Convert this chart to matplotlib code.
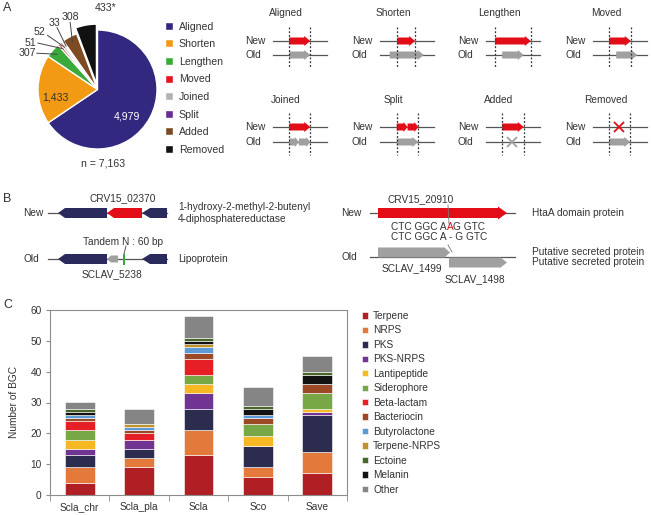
import matplotlib
matplotlib.use('Agg')
import matplotlib.pyplot as plt
import matplotlib.patches as mpatches
import numpy as np

plt.rcParams['font.family'] = ['Liberation Sans', 'DejaVu Sans']
plt.rcParams['font.size'] = 7.3
plt.rcParams['text.color'] = '#333333'
TXT = '#333333'
LINE = '#555555'

# ---- panel A : gene model changes
pie_labels = ['Aligned', 'Shorten', 'Lengthen', 'Moved', 'Joined', 'Split', 'Added', 'Removed']
pie_values = [4979, 1433, 307, 51, 52, 33, 308, 433]
pie_texts = ['4,979', '1,433', '307', '51', '52', '33', '308', '433*']
pie_colors = ['#32287f', '#f39a14', '#3aaa3a', '#e3141f', '#b3b3b3', '#6a2c8e', '#7d4a22', '#111111']
n_total = '7,163'

# schematic of each class, positions relative to a 0..1 line
case_bounds = [(0.30, 0.69), (0.32, 0.65), (0.17, 0.83), (0.30, 0.70),
               (0.30, 0.69), (0.31, 0.71), (0.30, 0.70), (0.30, 0.69)]
case_new = [[(0.30, 0.69)], [(0.32, 0.65)], [(0.17, 0.83)], [(0.30, 0.70)],
            [(0.30, 0.69)], [(0.31, 0.51), (0.51, 0.71)], [(0.30, 0.70)], []]
case_old = [[(0.30, 0.69)], [(0.18, 0.81)], [(0.30, 0.70)], [(0.43, 0.82)],
            [(0.30, 0.48), (0.48, 0.69)], [(0.31, 0.71)], [], [(0.30, 0.69)]]
case_cross = [None, None, None, None, None, None, ('old', 0.49), ('new', 0.49)]

# ---- panel C : BGC counts
strains = ['Scla_chr', 'Scla_pla', 'Scla', 'Sco', 'Save']
terpene = [4, 9, 13, 6, 7]
nrps = [5, 3, 8, 3, 7]
pks = [4, 3, 7, 7, 12]
pks_nrps = [2, 3, 5, 0, 1]
lantipeptide = [3, 0, 3, 3, 1]
siderophore = [3, 0, 3, 4, 5]
beta_lactam = [3, 2, 5, 0, 0]
bacteriocin = [1, 1, 2, 2, 3]
butyrolactone = [1, 1, 2, 1, 0]
terpene_nrps = [0, 1, 1, 0, 0]
ectoine = [1, 0, 1, 1, 1]
melanin = [1, 0, 1, 2, 3]
other = [2, 5, 7, 6, 5]

bgc = {'Terpene': terpene, 'NRPS': nrps, 'PKS': pks, 'PKS-NRPS': pks_nrps,
       'Lantipeptide': lantipeptide, 'Siderophore': siderophore,
       'Beta-lactam': beta_lactam, 'Bacteriocin': bacteriocin,
       'Butyrolactone': butyrolactone, 'Terpene-NRPS': terpene_nrps,
       'Ectoine': ectoine, 'Melanin': melanin, 'Other': other}
bgc_colors = {'Terpene': '#b01f24', 'NRPS': '#e3793a', 'PKS': '#2c2c4f',
              'PKS-NRPS': '#703592', 'Lantipeptide': '#f6b823',
              'Siderophore': '#77a845', 'Beta-lactam': '#e61e25',
              'Bacteriocin': '#9b4a25', 'Butyrolactone': '#5d9ad6',
              'Terpene-NRPS': '#c0922a', 'Ectoine': '#48652a',
              'Melanin': '#121212', 'Other': '#858585'}
legend_order = list(bgc.keys())
stack_order = ['Terpene', 'NRPS', 'PKS', 'PKS-NRPS', 'Lantipeptide', 'Siderophore',
               'Beta-lactam', 'Bacteriocin', 'Butyrolactone', 'Terpene-NRPS',
               'Melanin', 'Ectoine', 'Other']


def gene(ax, x0, x1, y, color, body=7, head=10, head_len=6, left=False):
    """block arrow in pixel coords (y down)"""
    if not left:
        hb = x1 - head_len
        pts = [(x0, y - body / 2), (hb, y - body / 2), (hb, y - head / 2), (x1, y),
               (hb, y + head / 2), (hb, y + body / 2), (x0, y + body / 2)]
    else:
        hb = x0 + head_len
        pts = [(x1, y - body / 2), (hb, y - body / 2), (hb, y - head / 2), (x0, y),
               (hb, y + head / 2), (hb, y + body / 2), (x1, y + body / 2)]
    ax.add_patch(mpatches.Polygon(pts, closed=True, facecolor=color,
                                  edgecolor='none', zorder=3))


fig = plt.figure(figsize=(6.51, 5.15), dpi=100)

# overlay in pixel units for schematics and panel letters
ov = fig.add_axes([0, 0, 1, 1])
ov.set_xlim(0, 651)
ov.set_ylim(515, 0)
ov.axis('off')

for lab, (px, py) in zip('ABC', [(3, 8), (3, 199), (3, 305)]):
    ov.text(px, py, lab, fontsize=9, va='center', ha='left', color=TXT)

# ---- panel A schematics
col_x = [273, 380, 486, 593]
rows_y = [(13, 41, 55), (100, 127, 142)]
L = 54
for i, name in enumerate(pie_labels):
    r, c = divmod(i, 4)
    x0 = col_x[c]
    ty, ny, oy = rows_y[r]
    ov.text((x0 - 28 + x0 + L) / 2, ty, name, ha='center', va='center', color=TXT)
    ov.text(x0 - 28, ny, 'New', ha='left', va='center', color=TXT)
    ov.text(x0 - 28, oy, 'Old', ha='left', va='center', color=TXT)
    ov.plot([x0, x0 + L], [ny, ny], color=LINE, lw=0.9, zorder=2)
    ov.plot([x0, x0 + L], [oy, oy], color=LINE, lw=0.9, zorder=2)
    for b in case_bounds[i]:
        ov.plot([x0 + b * L] * 2, [ny - 14, oy + 13], color='#333333', lw=0.9,
                ls=(0, (1.5, 1.5)), zorder=4)
    for s, e in case_new[i]:
        gene(ov, x0 + s * L, x0 + e * L, ny, '#e30d18',
             head_len=6 if e - s > 0.3 else 4)
    for s, e in case_old[i]:
        gene(ov, x0 + s * L, x0 + e * L, oy, '#a0a0a0',
             head_len=6 if e - s > 0.3 else 4)
    if case_cross[i] is not None:
        where, pos = case_cross[i]
        yy = ny if where == 'new' else oy
        col = '#e30d18' if where == 'new' else '#a0a0a0'
        ov.plot([x0 + pos * L], [yy], marker='x', ms=7, mew=1.3, color=col, zorder=5)

# ---- panel B left
NAVY = '#2b2a5c'
ov.text(23, 213, 'New', ha='left', va='center', color=TXT)
ov.plot([48, 167], [213, 213], color=LINE, lw=0.9, zorder=2)
gene(ov, 58, 107, 213, NAVY, body=10, head=10, head_len=7, left=True)
gene(ov, 107, 142, 213, '#e30d18', body=10, head=10, head_len=7, left=True)
gene(ov, 142, 167, 213, NAVY, body=10, head=10, head_len=8, left=True)
ov.text(123, 198, 'CRV15_02370', ha='center', va='center', color=TXT)
ov.text(178, 207, '1-hydroxy-2-methyl-2-butenyl', ha='left', va='center', color=TXT)
ov.text(178, 219, '4-diphosphatereductase', ha='left', va='center', color=TXT)

ov.text(23, 259, 'Old', ha='left', va='center', color=TXT)
ov.plot([48, 167], [259, 259], color=LINE, lw=0.9, zorder=2)
gene(ov, 58, 107, 259, NAVY, body=10, head=10, head_len=7, left=True)
gene(ov, 107, 118, 259, '#a0a0a0', body=7, head=7, head_len=4, left=True)
ov.add_patch(mpatches.Rectangle((122.5, 253.5), 2.5, 11, facecolor='#3aaa3a',
                                edgecolor='none', zorder=3))
gene(ov, 142, 167, 259, NAVY, body=10, head=10, head_len=8, left=True)
ov.text(83, 242, 'Tandem N : 60 bp', ha='left', va='center', color=TXT)
ov.plot([126, 124], [246, 254], color=LINE, lw=0.7)
ov.text(112, 274, 'SCLAV_5238', ha='center', va='center', color=TXT)
ov.text(178, 259, 'Lipoprotein', ha='left', va='center', color=TXT)

# ---- panel B right
ov.text(341, 213, 'New', ha='left', va='center', color=TXT)
ov.plot([370, 515], [213, 213], color=LINE, lw=0.9, zorder=2)
gene(ov, 378, 507, 213, '#e30d18', body=10, head=13, head_len=9)
ov.text(387, 199, 'CRV15_20910', ha='left', va='center', color=TXT)
ov.plot([448, 449], [205, 224], color='#777777', lw=0.6, zorder=4)
t1 = ov.text(391, 227, 'CTC GGC A', ha='left', va='center', color=TXT)
t2 = ov.annotate('A', xy=(1, 0), xycoords=t1, ha='left', va='bottom', color='#e30d18')
ov.annotate('G GTC', xy=(1, 0), xycoords=t2, ha='left', va='bottom', color=TXT)
ov.text(391, 237, 'CTC GGC A - G GTC', ha='left', va='center', color=TXT)
ov.plot([448, 452], [245, 252], color='#777777', lw=0.6, zorder=4)
ov.text(341, 257, 'Old', ha='left', va='center', color=TXT)
ov.plot([370, 515], [257, 257], color=LINE, lw=0.9, zorder=2)
gene(ov, 378, 450, 252.5, '#a0a0a0', body=10, head=11, head_len=6)
gene(ov, 449, 507, 262.5, '#a0a0a0', body=10, head=11, head_len=7)
ov.text(382, 268, 'SCLAV_1499', ha='left', va='center', color=TXT)
ov.text(445, 279, 'SCLAV_1498', ha='left', va='center', color=TXT)
ov.text(532, 213, 'HtaA domain protein', ha='left', va='center', color=TXT)
ov.text(532, 252, 'Putative secreted protein', ha='left', va='center', color=TXT)
ov.text(532, 262, 'Putative secreted protein', ha='left', va='center', color=TXT)

# ---- panel A pie
cx, cy, R, half = 97.5, 89.5, 59.5, 1.55
s = half * R
axp = fig.add_axes([(cx - s) / 651, 1 - (cy + s) / 515, 2 * s / 651, 2 * s / 515])
explode = [0.0] * (len(pie_values) - 1) + [0.1]
wedges, _ = axp.pie(pie_values, colors=pie_colors, startangle=90, counterclock=False,
                    explode=explode, radius=1,
                    wedgeprops=dict(edgecolor='white', linewidth=1))
axp.set_xlim(-half, half)
axp.set_ylim(-half, half)
axp.set_aspect('equal')
axp.axis('off')

text_pos = [(0.50, -0.46), (-0.70, -0.14), (-1.18, 0.61), (-1.13, 0.78),
            (-0.97, 0.97), (-0.73, 1.12), (-0.46, 1.22), (0.14, 1.37)]
lead_start = [None, None, (-1.02, 0.61), (-1.0, 0.78), (-0.84, 0.91),
              (-0.68, 1.04), (-0.46, 1.13), None]
for w, txt, pos, st in zip(wedges, pie_texts, text_pos, lead_start):
    col = 'white' if txt == '4,979' else TXT
    axp.text(pos[0], pos[1], txt, ha='center', va='center', color=col, fontsize=7.6)
    if st is not None:
        mid = np.deg2rad((w.theta1 + w.theta2) / 2)
        axp.plot([st[0], 0.9 * np.cos(mid)], [st[1], 0.9 * np.sin(mid)],
                 color='#444444', lw=0.7, clip_on=False)
axp.text(0.09, -1.24, 'n = ' + n_total, ha='center', va='center', color=TXT, fontsize=7.6)

fig.legend(wedges, pie_labels, loc='upper left', bbox_to_anchor=(165 / 651, 1 - 21.5 / 515),
           frameon=False, handlelength=0.8, handleheight=0.8, handletextpad=0.5,
           labelspacing=0.72, borderaxespad=0, borderpad=0, fontsize=7.6)

# ---- panel C stacked bars
axb = fig.add_axes([50 / 651, 1 - 495 / 515, 297 / 651, 185 / 515])
x = np.arange(len(strains))
bottom = np.zeros(len(strains))
bars = {}
for name in stack_order:
    vals = np.array(bgc[name], dtype=float)
    bars[name] = axb.bar(x, vals, 0.5, bottom=bottom, color=bgc_colors[name],
                         edgecolor='white', linewidth=0.4)
    bottom += vals
axb.set_xlim(-0.5, len(strains) - 0.5)
axb.set_ylim(0, 60)
axb.set_yticks(range(0, 61, 10))
axb.set_xticks(x)
axb.set_xticklabels(strains)
axb.set_xticks(np.arange(-0.5, len(strains)), minor=True)
axb.tick_params(axis='x', which='major', length=0, pad=5, labelsize=7.3, labelcolor=TXT)
axb.tick_params(axis='x', which='minor', length=4, direction='out', color='#8c8c8c')
axb.tick_params(axis='y', length=3, direction='out', color='#8c8c8c', pad=3,
                labelsize=7.3, labelcolor=TXT)
for sp in axb.spines.values():
    sp.set_color('#8c8c8c')
    sp.set_linewidth(0.8)
axb.set_ylabel('Number of BGC', color=TXT, fontsize=7.3, labelpad=8)

fig.legend([bars[n] for n in legend_order], legend_order, loc='upper left',
           bbox_to_anchor=(362 / 651, 1 - 311 / 515), frameon=False,
           handlelength=0.6, handleheight=0.6, handletextpad=0.5, labelspacing=0.44,
           borderaxespad=0, borderpad=0, fontsize=7.3)

fig.savefig('out.png', dpi=100)
